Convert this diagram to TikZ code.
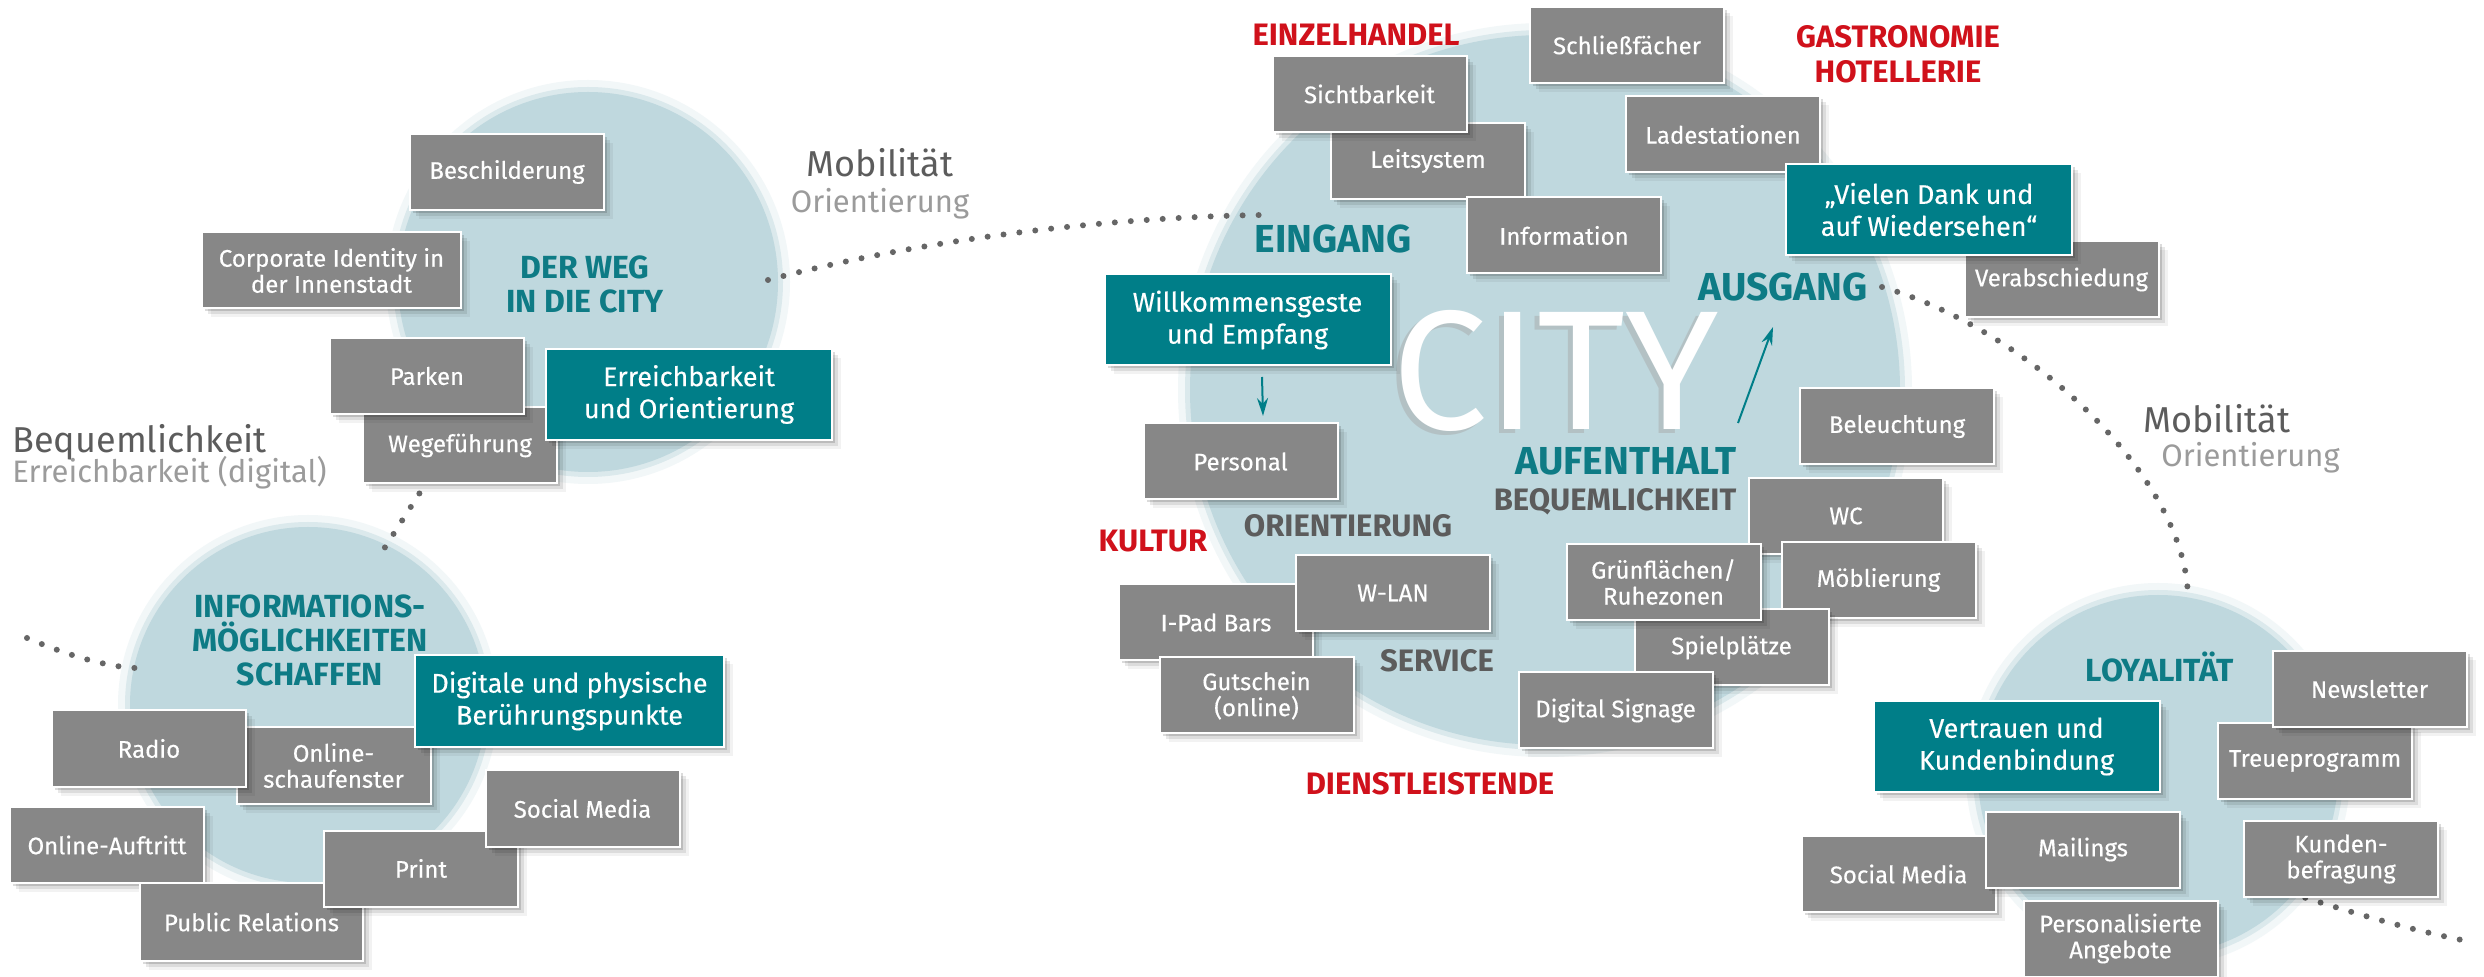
\documentclass[tikz,border=0pt]{standalone}
\usepackage{fontspec}
\setmainfont{Fira Sans}
\newfontfamily\boxfont{Fira Sans}[FakeBold=0.35]
\usetikzlibrary{shadows,arrows.meta}
\definecolor{boxgray}{HTML}{878787}
\definecolor{tealbox}{HTML}{007E88}
\definecolor{tealtxt}{HTML}{0E7B85}
\definecolor{circ}{HTML}{BFD8DE}
\definecolor{redtxt}{HTML}{D0111B}
\definecolor{darktxt}{HTML}{5C5C5C}
\definecolor{lighttxt}{HTML}{9B9B9B}
\definecolor{dotcol}{HTML}{666666}
\tikzset{
  sh/.style={drop shadow={shadow xshift=1.5pt,shadow yshift=-1.5pt,opacity=0.14,fill=black},
             drop shadow={shadow xshift=3pt,shadow yshift=-3pt,opacity=0.09,fill=black},
             drop shadow={shadow xshift=4.5pt,shadow yshift=-4.5pt,opacity=0.05,fill=black}},
  gbox/.style={sh, draw=white, line width=1pt, fill=boxgray, text=white,
               minimum width=97pt, minimum height=38pt, inner sep=0pt, align=center,
               font=\boxfont\fontsize{12}{13}\selectfont},
  tbox/.style={gbox, fill=tealbox, minimum width=143pt, minimum height=45.5pt,
               font=\boxfont\fontsize{13.5}{16}\selectfont},
  bigc/.style={circle, fill=circ, inner sep=0pt, draw=circ, draw opacity=0.45, line width=5pt,
               preaction={draw=circ, draw opacity=0.2, line width=12pt}},
  head/.style={text=tealtxt, font=\bfseries\fontsize{16}{17}\selectfont, align=center, inner sep=0pt},
  bighead/.style={text=tealtxt, font=\bfseries\fontsize{19.5}{20}\selectfont, inner sep=0pt},
  sect/.style={text=redtxt, font=\bfseries\fontsize{15.5}{17.5}\selectfont, align=center, inner sep=0pt},
  sub/.style={text=darktxt, font=\bfseries\fontsize{15.5}{16}\selectfont, inner sep=0pt},
  dotline/.style={draw=dotcol, line width=3pt, dash pattern=on 0pt off 8pt, line cap=round},
  arr/.style={draw=tealbox, line width=1pt, -{Stealth[length=9pt,width=5.5pt]}},
  side/.style={text=darktxt, font=\fontsize{18}{20}\selectfont, inner sep=0pt},
  sidel/.style={text=lighttxt, font=\fontsize{15.5}{17}\selectfont, inner sep=0pt}
}
\begin{document}
\begin{tikzpicture}[x=0.5pt,y=-0.5pt]
\fill[white] (0,0) rectangle (2484,977);
\useasboundingbox (0,0) rectangle (2484,977);

% circles
\node[bigc, minimum size=190pt] (cweg) at (588,282) {};
\node[bigc, minimum size=178pt] (cinfo) at (308,705) {};
\node[bigc, minimum size=355pt] (ccity) at (1545,390) {};
\node[bigc, minimum size=180pt] (cloy) at (2158,775) {};

% dotted connectors
\coordinate (d1a) at (768,280);
\coordinate (d1b) at (1261,215);
\draw[dotline] (d1a) .. controls (900,245) and (1080,218) .. (d1b);
\coordinate (d2a) at (428,480);
\coordinate (d2b) at (382,552);
\draw[dotline] (d2a) -- (d2b);
\coordinate (d3a) at (27,638);
\coordinate (d3b) at (135,668);
\draw[dotline] (d3a) .. controls (60,652) and (100,666) .. (d3b);
\coordinate (d4a) at (1882,287);
\coordinate (d4b) at (2188,602);
\draw[dotline] (d4a) .. controls (2030,330) and (2190,480) .. (d4b);
\coordinate (d5a) at (2290,893);
\coordinate (d5b) at (2467,941);
\draw[dotline] (d5a) .. controls (2350,912) and (2410,930) .. (d5b);

% big CITY lettering with soft shadow
\begin{scope}[opacity=0.45]
\node[text=black!35, anchor=base, inner sep=0pt, font=\fontsize{85}{85}\selectfont] (citysh) at (1551,434) {CITY};
\end{scope}
\node[text=white, anchor=base, inner sep=0pt, font=\fontsize{85}{85}\selectfont] (city) at (1556,430) {CITY};

% left cluster: Der Weg
\node[gbox] (beschilderung) at (507,172) {Beschilderung};
\node[gbox, minimum width=129.5pt] (corporate) at (331.5,270.5) {Corporate Identity in\\der Innenstadt};
\node[gbox] (wege) at (460,445.5) {Wegeführung};
\node[gbox] (parken) at (427,376) {Parken};
\node[tbox] (erreich) at (689,394.5) {Erreichbarkeit\\und Orientierung};

% info cluster
\node[gbox] (schaufenster) at (333.5,765.5) {Online-\\schaufenster};
\node[gbox] (radio) at (149,748.5) {Radio};
\node[tbox, minimum width=154.5pt, minimum height=46pt] (digitale) at (569.5,701) {Digitale und physische\\Berührungspunkte};
\node[gbox] (auftritt) at (107,845) {Online-Auftritt};
\node[gbox, minimum width=111.5pt, minimum height=39pt] (pr) at (251.5,922) {Public Relations};
\node[gbox] (print) at (421,868.5) {Print};
\node[gbox] (socialL) at (582.5,808.5) {Social Media};

% city cluster
\node[gbox] (leit) at (1428,161) {Leitsystem};
\node[gbox] (sicht) at (1369.5,94) {Sichtbarkeit};
\node[gbox] (info) at (1564,235.5) {Information};
\node[gbox] (schliess) at (1627,45) {Schließfächer};
\node[gbox] (lade) at (1723,134.5) {Ladestationen};
\node[gbox] (verab) at (2061.5,279.5) {Verabschiedung};
\node[tbox] (vielen) at (1929,209.5) {„Vielen Dank und\\auf Wiedersehen“};
\node[tbox] (willk) at (1247.5,320) {Willkommensgeste\\und Empfang};
\node[gbox] (personal) at (1240.5,461.5) {Personal};
\node[gbox] (beleucht) at (1897,426.5) {Beleuchtung};
\node[gbox] (wc) at (1846,516) {WC};
\node[gbox] (moebl) at (1878.5,580) {Möblierung};
\node[gbox] (spiel) at (1731.5,647.5) {Spielplätze};
\node[gbox] (gruen) at (1663.5,582) {Grünflächen/\\Ruhezonen};
\node[gbox] (signage) at (1615.5,710.5) {Digital Signage};
\node[gbox] (ipad) at (1216,622.5) {I-Pad Bars};
\node[gbox] (wlan) at (1393,593) {W-LAN};
\node[gbox] (gutschein) at (1256.5,695.5) {Gutschein\\(online)};

% loyalty cluster
\node[gbox] (treue) at (2315,761) {Treueprogramm};
\node[gbox] (newsletter) at (2369.5,689) {Newsletter};
\node[tbox] (vertrauen) at (2016.5,746.5) {Vertrauen und\\Kundenbindung};
\node[gbox] (socialR) at (1898.5,874) {Social Media};
\node[gbox] (mailings) at (2083,849.5) {Mailings};
\node[gbox] (kunden) at (2341,859) {Kunden-\\befragung};
\node[gbox] (persang) at (2120.5,938.5) {Personalisierte\\Angebote};

% headings
\node[head] (hweg) at (585,284) {DER WEG\\IN DIE CITY};
\node[head] (hinfo) at (310,640) {INFORMATIONS-\\MÖGLICHKEITEN\\SCHAFFEN};
\node[bighead] (eingang) at (1333,239) {EINGANG};
\node[bighead] (ausgang) at (1783,287) {AUSGANG};
\node[bighead] (aufenthalt) at (1626,461) {AUFENTHALT};
\node[sub] (bequem) at (1615,502) {BEQUEMLICHKEIT};
\node[sub] (orient) at (1348,526) {ORIENTIERUNG};
\node[sub] (service) at (1437,661) {SERVICE};
\node[head] (loyal) at (2160,667) {LOYALITÄT};
\node[sect] (kultur) at (1153,541) {KULTUR};
\node[sect] (einzel) at (1356,35) {EINZELHANDEL};
\node[sect] (gastro) at (1898,54) {GASTRONOMIE\\HOTELLERIE};
\node[sect] (dienst) at (1430,784) {DIENSTLEISTENDE};

% side labels
\node[side, anchor=base] (mobT) at (880,177) {Mobilität};
\node[sidel, anchor=base] (oriT) at (880,213) {Orientierung};
\node[side, anchor=base west] (mobR) at (2143,433) {Mobilität};
\node[sidel, anchor=base west] (oriR) at (2161,467) {Orientierung};
\node[side, anchor=base west] (bequL) at (12,453) {Bequemlichkeit};
\node[sidel, anchor=base west] (errL) at (12,483) {Erreichbarkeit (digital)};

% arrows
\coordinate (a1s) at (1262,377);
\coordinate (a1e) at (1263,416);
\draw[arr] (a1s) -- (a1e);
\coordinate (a2s) at (1738,423);
\coordinate (a2e) at (1773,327);
\draw[arr] (a2s) -- (a2e);
\end{tikzpicture}
\end{document}
